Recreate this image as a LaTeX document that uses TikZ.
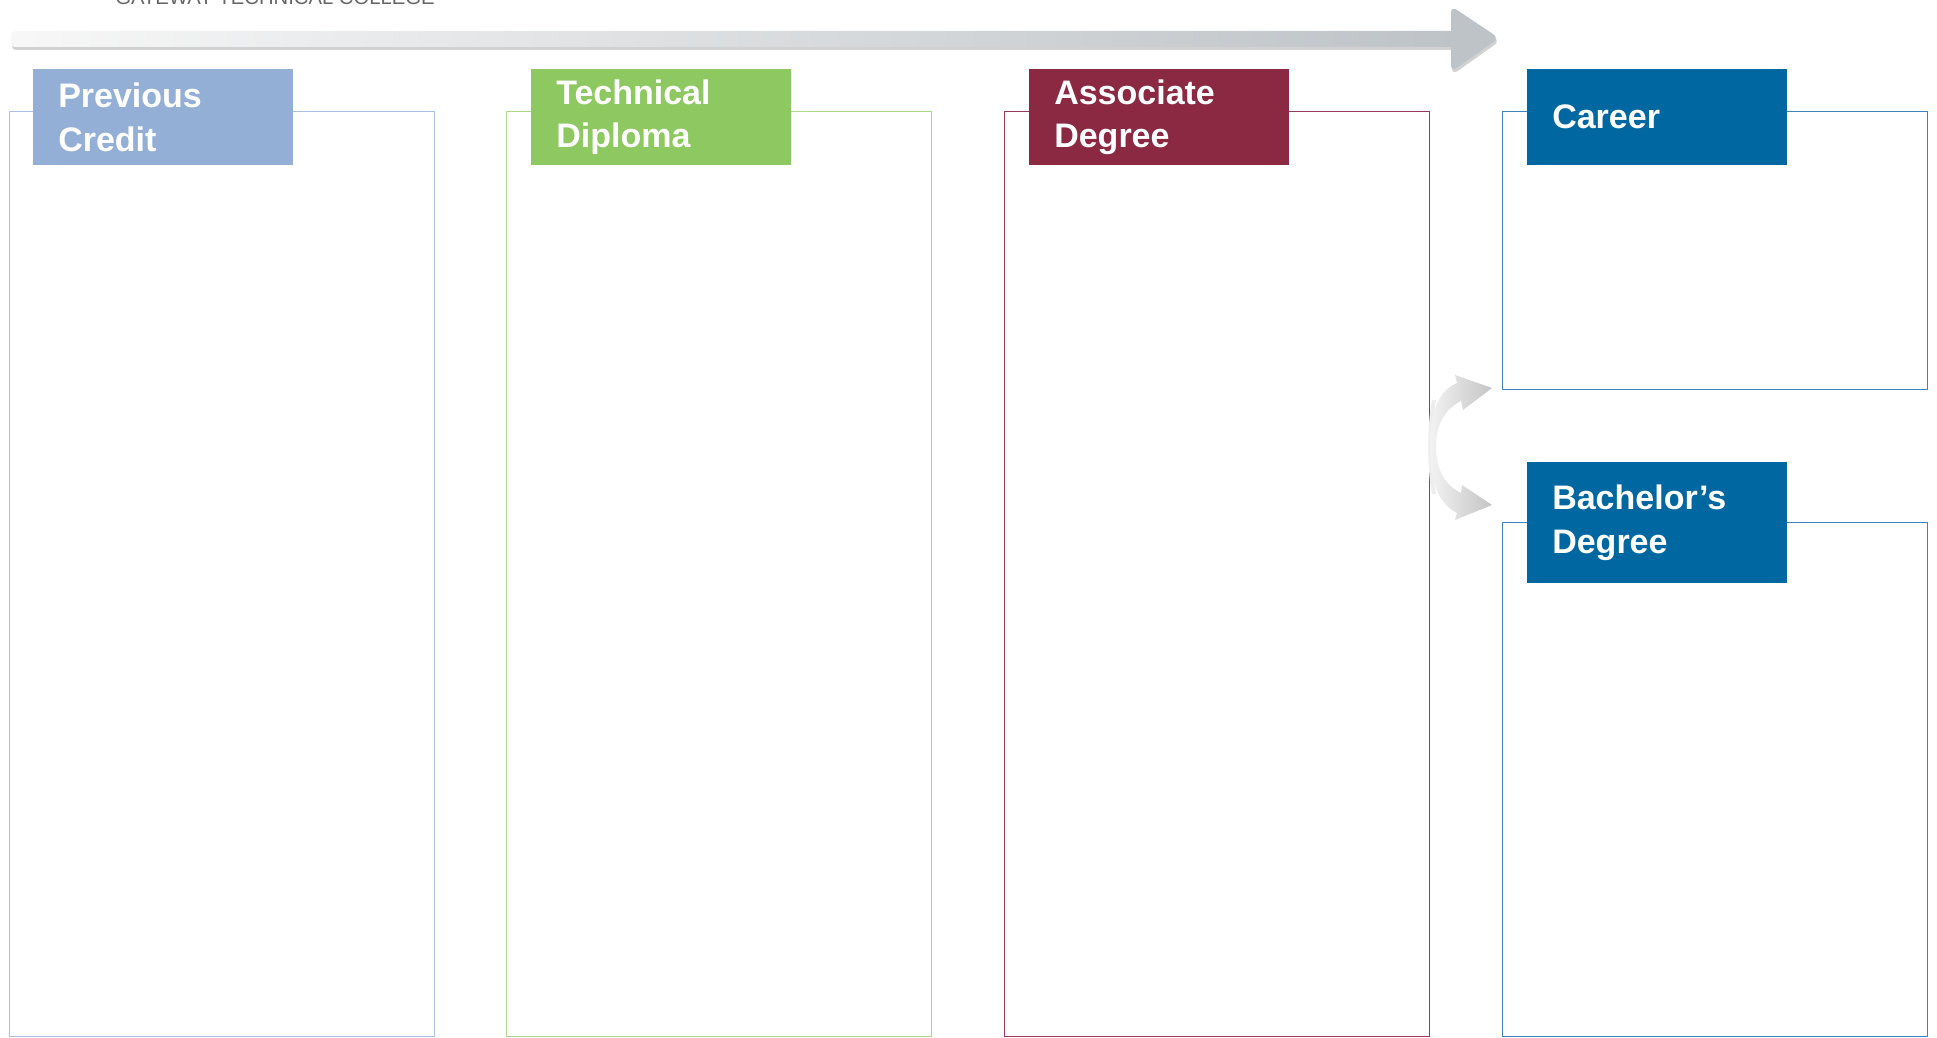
\documentclass[tikz,border=0pt]{standalone}
\usepackage{fontspec}
\setmainfont{Liberation Sans}

\definecolor{prevblue}{RGB}{147,175,214}
\definecolor{prevline}{RGB}{170,192,226}
\definecolor{techgreen}{RGB}{141,200,96}
\definecolor{techline}{RGB}{172,215,140}
\definecolor{assocred}{RGB}{139,40,66}
\definecolor{assocline}{RGB}{152,58,88}
\definecolor{careerblue}{RGB}{0,103,161}
\definecolor{careerline}{RGB}{62,132,186}
\definecolor{arrowgrey}{RGB}{190,195,199}

\tikzset{
	colbox/.style={draw, line width=0.9pt, anchor=north west, minimum width=318.75pt, inner sep=0pt},
	stagelbl/.style={text=white, anchor=north west, inner xsep=18.75pt, inner ysep=0pt, text width=157.5pt, align=left, minimum height=72pt, font=\bfseries\fontsize{25.5}{32.5}\selectfont},
}

\begin{document}
\begin{tikzpicture}[x=0.75pt, y=-0.75pt]
	\useasboundingbox (0,0) rectangle (1937,1038);

	\node[anchor=base west, inner sep=0pt, text=black!60, font=\fontsize{15.2}{18}\selectfont] (college) at (115,5) {GATEWAY TECHNICAL COLLEGE};

	% long arrow on top
	\fill[black!18, rounded corners=3] (12,34) rectangle (1455,50);
	\shade[left color=white!97!black, right color=arrowgrey, rounded corners=3] (11,31) rectangle (1455,47);
	\fill[black!18, rounded corners=5] (1452,9) -- (1500,41) -- (1452,75) -- cycle;
	\fill[arrowgrey, rounded corners=5] (1451,6) -- (1499,38) -- (1451,72) -- cycle;

	% columns
	\node[colbox, draw=prevline, minimum height=693.75pt] (prevbox) at (9,111) {};
	\node[colbox, draw=techline, minimum height=693.75pt] (techbox) at (506,111) {};
	\node[colbox, draw=assocline, minimum height=693.75pt] (assocbox) at (1004,111) {};
	\node[colbox, draw=careerline, minimum height=208.5pt] (careerbox) at (1502,111) {};
	\node[colbox, draw=careerline, minimum height=385.5pt] (bachbox) at (1502,522) {};

	\node[stagelbl, fill=prevblue] (prevlbl) at (33,69) {Previous\\Credit};
	\node[stagelbl, fill=techgreen] (techlbl) at (531,69) {Technical\\Diploma};
	\node[stagelbl, fill=assocred] (assoclbl) at (1029,69) {Associate\\Degree};
	\node[stagelbl, fill=careerblue] (careerlbl) at (1527,69) {Career};
	\node[stagelbl, fill=careerblue, minimum height=90.75pt] (bachlbl) at (1527,462) {Bachelor’s\\Degree};

	% split arrow
	\coordinate (uptip) at (1492,388);
	\coordinate (lowtip) at (1492,505);
	\fill[black!7] (1432,400) .. controls (1427,425) and (1427,470) .. (1432,494) -- (1436,494) .. controls (1431,470) and (1431,425) .. (1436,400) -- cycle;
	\shade[left color=black!5, right color=black!23] (uptip) -- (1463,410) -- (1461,401) .. controls (1441,411) and (1436,430) .. (1436,447) .. controls (1436,464) and (1441,483) .. (1461,493) -- (1462,485) -- (lowtip) -- (1455,520) -- (1457,513) .. controls (1433,501) and (1430,470) .. (1430,447) .. controls (1430,424) and (1433,393) .. (1457,383) -- (1455,375) -- cycle;
\end{tikzpicture}
\end{document}
